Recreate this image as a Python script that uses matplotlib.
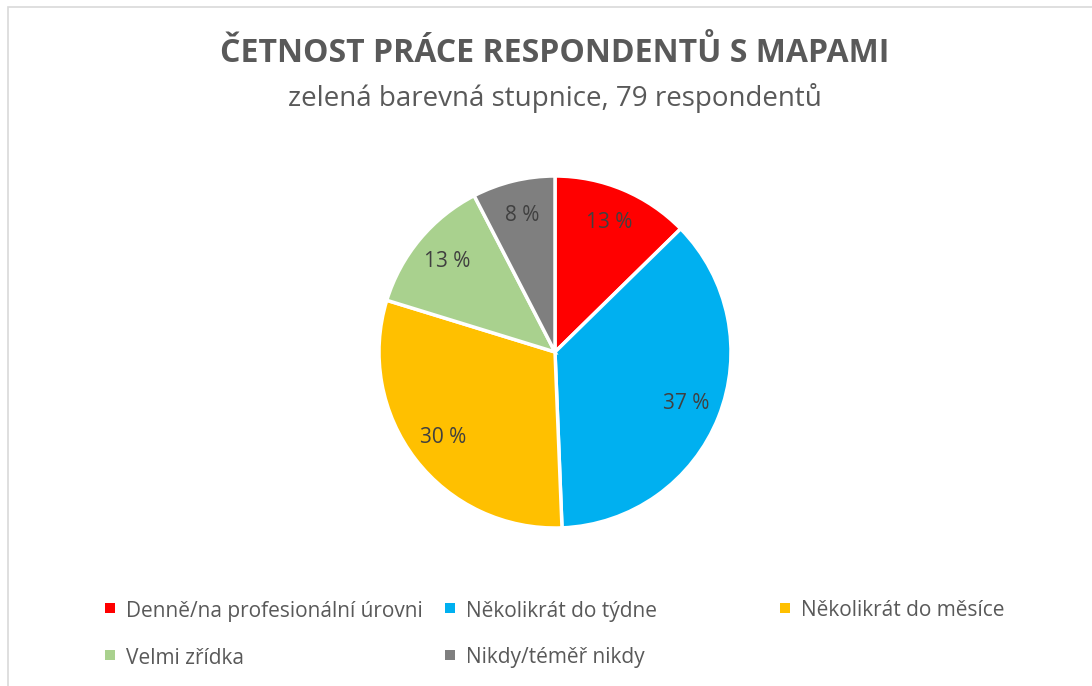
import matplotlib
matplotlib.use("Agg")
import matplotlib.pyplot as plt
from matplotlib.patches import Rectangle

categories = ["Denně/na profesionální úrovni", "Několikrát do týdne", "Několikrát do měsíce",
              "Velmi zřídka", "Nikdy/téměř nikdy"]
counts = [10, 29, 24, 10, 6]
colors = ["#FF0000", "#00B0F0", "#FFC000", "#A9D18E", "#7F7F7F"]
title = "ČETNOST PRÁCE RESPONDENTŮ S MAPAMI"
subtitle = "zelená barevná stupnice, 79 respondentů"

plt.rcParams['font.family'] = ['Open Sans', 'DejaVu Sans']
W, H = 1092, 686
fig = plt.figure(figsize=(W / 100, H / 100), dpi=100)

# border (left/top visible)
fig.patches.append(Rectangle((8 / W, -0.05), 1.2, 1 - 7 / H + 0.05, transform=fig.transFigure,
                             fill=False, edgecolor="#D9D9D9", linewidth=1.2))

cx, cy, r = 555, 352, 176
ax = fig.add_axes([(cx - r) / W, (H - cy - r) / H, 2 * r / W, 2 * r / H])
wedges, texts, autotexts = ax.pie(
    counts, colors=colors, startangle=90, counterclock=False,
    autopct=lambda p: f"{p:.0f} %", pctdistance=0.8,
    wedgeprops=dict(edgecolor="white", linewidth=2.5),
    textprops=dict(color="#404040", fontsize=15))
ax.set_xlim(-1, 1)
ax.set_ylim(-1, 1)
ax.set_aspect("equal")
ax.axis("off")

fig.text(555 / W, 1 - 53 / H, title, ha="center", va="center", fontsize=23,
         fontweight="bold", color="#595959")
fig.text(555 / W, 1 - 98 / H, subtitle, ha="center", va="center", fontsize=20,
         color="#595959")

# legend
pos = [(110, 608), (450, 608), (785, 608), (110, 655), (450, 655)]
for (x, y), lab, c in zip(pos, categories, colors):
    fig.patches.append(Rectangle(((x - 5) / W, 1 - (y + 5) / H), 10 / W, 10 / H,
                                 transform=fig.transFigure, facecolor=c, edgecolor="none"))
    fig.text((x + 16) / W, 1 - (y + 3) / H, lab, ha="left", va="center", fontsize=15,
             color="#595959")

fig.savefig("out.png", dpi=100)
